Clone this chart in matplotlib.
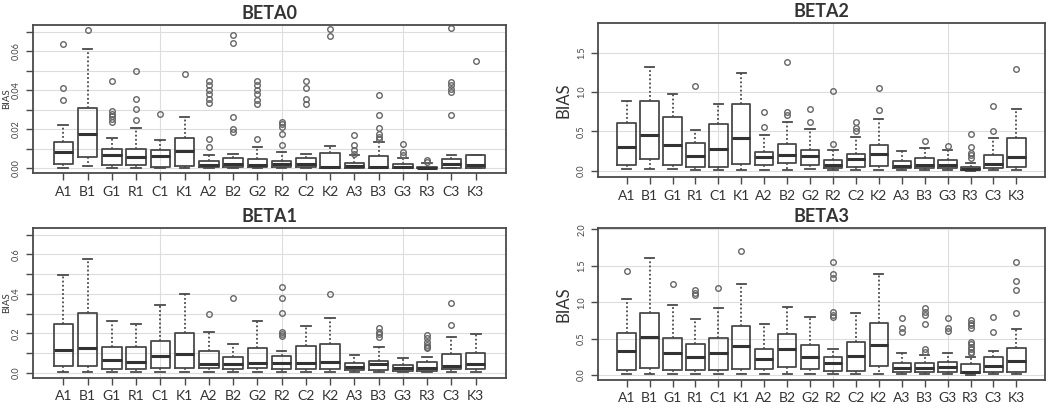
import matplotlib
matplotlib.use("Agg")
import matplotlib.pyplot as plt
import numpy as np

plt.rcParams['font.family'] = ['Lato', 'DejaVu Sans']

groups = ["A1", "B1", "G1", "R1", "C1", "K1", "A2", "B2", "G2",
          "R2", "C2", "K2", "A3", "B3", "G3", "R3", "C3", "K3"]

# BETA0
beta0_q1 = [0.0022, 0.0056, 0.0017, 0.0017, 0.0008, 0.0014, 0.0005, 0.0005, 0.0005,
            0.0005, 0.0005, 0.0, 0.0, 0.0, 0.0, 0.0, 0.0, 0.0]
beta0_med = [0.0085, 0.0178, 0.0068, 0.0060, 0.0065, 0.0088, 0.0017, 0.0022, 0.0019,
             0.0022, 0.0022, 0.0008, 0.0014, 0.0008, 0.0008, 0.0002, 0.0022, 0.0017]
beta0_q3 = [0.0133, 0.0309, 0.0099, 0.0099, 0.0093, 0.0156, 0.0039, 0.0051, 0.0046,
            0.0039, 0.0051, 0.0080, 0.0025, 0.0063, 0.0022, 0.0008, 0.0046, 0.0068]
beta0_lo = [0.0, 0.001, 0.0, 0.0, 0.0, 0.0, 0.0, 0.0, 0.0,
            0.0, 0.0, 0.0, 0.0, 0.0, 0.0, 0.0, 0.0, 0.0]
beta0_hi = [0.0221, 0.0612, 0.0156, 0.0207, 0.0144, 0.0263, 0.0068, 0.0073, 0.0110,
            0.0085, 0.0073, 0.0116, 0.0068, 0.0136, 0.0051, 0.0025, 0.0068, 0.0068]
beta0_out = [[0.0637, 0.0411, 0.0348],
             [0.0709],
             [0.0447, 0.0294, 0.0280, 0.0267, 0.0251, 0.0238],
             [0.0498, 0.0357, 0.0306, 0.0246],
             [0.0280],
             [0.0484],
             [0.0450, 0.0425, 0.0403, 0.0379, 0.0357, 0.0335, 0.0148, 0.0110],
             [0.0685, 0.0641, 0.0263, 0.0204, 0.0187],
             [0.0450, 0.0425, 0.0403, 0.0379, 0.0352, 0.0328, 0.0148],
             [0.0238, 0.0226, 0.0212, 0.0178, 0.0119],
             [0.0450, 0.0413, 0.0357, 0.0328],
             [0.0717, 0.0680],
             [0.0170, 0.0119, 0.0093, 0.0076],
             [0.0377, 0.0272, 0.0207, 0.0178, 0.0161, 0.0148],
             [0.0124, 0.0085, 0.0068],
             [0.0042, 0.0034],
             [0.0722, 0.0445, 0.0425, 0.0408, 0.0391, 0.0272],
             [0.0549]]

# BETA1
beta1_q1 = [0.034, 0.034, 0.017, 0.017, 0.022, 0.022, 0.022, 0.017, 0.022,
            0.017, 0.017, 0.017, 0.014, 0.014, 0.010, 0.010, 0.017, 0.017]
beta1_med = [0.115, 0.127, 0.064, 0.056, 0.086, 0.093, 0.044, 0.042, 0.047,
             0.047, 0.047, 0.056, 0.031, 0.044, 0.022, 0.022, 0.036, 0.042]
beta1_q3 = [0.247, 0.302, 0.132, 0.132, 0.163, 0.200, 0.110, 0.081, 0.124,
            0.085, 0.136, 0.146, 0.047, 0.061, 0.039, 0.056, 0.093, 0.098]
beta1_lo = [0.005, 0.005, 0.005, 0.005, 0.005, 0.005, 0.005, 0.005, 0.005,
            0.005, 0.005, 0.005, 0.003, 0.003, 0.003, 0.003, 0.005, 0.005]
beta1_hi = [0.497, 0.576, 0.264, 0.246, 0.344, 0.398, 0.208, 0.146, 0.264,
            0.112, 0.237, 0.276, 0.088, 0.132, 0.073, 0.078, 0.180, 0.195]
beta1_out = [[], [], [], [], [], [],
             [0.298],
             [0.381],
             [],
             [0.437, 0.378, 0.305, 0.208, 0.197, 0.186],
             [],
             [0.398],
             [],
             [0.225, 0.208, 0.195, 0.183],
             [],
             [0.192, 0.175, 0.158, 0.141, 0.132, 0.124],
             [0.356, 0.242],
             []]

# BETA2
beta2_q1 = [0.072, 0.144, 0.072, 0.051, 0.051, 0.085, 0.072, 0.102, 0.072,
            0.038, 0.051, 0.059, 0.030, 0.030, 0.030, 0.008, 0.030, 0.051]
beta2_med = [0.305, 0.453, 0.326, 0.190, 0.275, 0.411, 0.178, 0.200, 0.190,
             0.072, 0.144, 0.208, 0.064, 0.072, 0.072, 0.021, 0.085, 0.178]
beta2_q3 = [0.610, 0.890, 0.678, 0.347, 0.593, 0.843, 0.233, 0.339, 0.263,
            0.136, 0.212, 0.326, 0.127, 0.157, 0.136, 0.042, 0.200, 0.419]
beta2_lo = [0.017, 0.017, 0.017, 0.005, 0.005, 0.010, 0.010, 0.005, 0.020,
            0.010, 0.010, 0.010, 0.005, 0.005, 0.005, 0.0, 0.005, 0.010]
beta2_hi = [0.890, 1.320, 0.970, 0.517, 0.847, 1.237, 0.453, 0.623, 0.530,
            0.263, 0.432, 0.653, 0.254, 0.292, 0.263, 0.093, 0.419, 0.780]
beta2_out = [[], [], [],
             [1.080],
             [], [],
             [0.742, 0.559],
             [1.386, 0.750, 0.708],
             [0.780, 0.623],
             [1.017, 0.339],
             [0.614, 0.547, 0.508],
             [1.055, 0.771],
             [],
             [0.381],
             [0.314],
             [0.462, 0.305, 0.229, 0.200, 0.157],
             [0.826, 0.504],
             [1.288]]

# BETA3
beta3_q1 = [0.068, 0.100, 0.068, 0.068, 0.068, 0.078, 0.078, 0.114, 0.078,
            0.059, 0.059, 0.123, 0.046, 0.037, 0.046, 0.023, 0.046, 0.046]
beta3_med = [0.329, 0.516, 0.297, 0.242, 0.297, 0.397, 0.215, 0.352, 0.251,
             0.160, 0.260, 0.411, 0.100, 0.091, 0.114, 0.046, 0.128, 0.196]
beta3_q3 = [0.571, 0.845, 0.502, 0.425, 0.502, 0.671, 0.352, 0.562, 0.411,
            0.242, 0.457, 0.708, 0.169, 0.160, 0.183, 0.146, 0.251, 0.374]
beta3_lo = [0.014, 0.014, 0.014, 0.014, 0.014, 0.014, 0.014, 0.014, 0.014,
            0.014, 0.014, 0.014, 0.010, 0.010, 0.010, 0.005, 0.010, 0.020]
beta3_hi = [1.041, 1.612, 0.959, 0.776, 0.927, 1.256, 0.699, 0.936, 0.799,
            0.352, 0.858, 1.393, 0.306, 0.274, 0.306, 0.251, 0.333, 0.626]
beta3_out = [[1.425],
             [],
             [1.256],
             [1.174, 1.128, 1.096],
             [1.200],
             [1.703],
             [], [], [],
             [1.553, 1.384, 1.338, 0.868, 0.822, 0.790],
             [], [],
             [0.785, 0.648, 0.594],
             [0.927, 0.868, 0.822, 0.699, 0.352, 0.320],
             [0.785, 0.648, 0.603],
             [0.753, 0.717, 0.685, 0.639, 0.457, 0.425, 0.388, 0.352, 0.320, 0.297],
             [0.790, 0.594],
             [1.553, 1.292, 1.164, 0.858]]

W, H = 1054, 409
fig = plt.figure(figsize=(W / 100, H / 100), dpi=100)


def make_ax(l, t, r, b):
    return fig.add_axes([l / W, 1 - b / H, (r - l) / W, (b - t) / H])


panels = [
    ("BETA0", (33, 25, 506, 173), (-0.0024, 0.0735),
     np.arange(0, 0.0701, 0.01), ["0.00", "", "0.02", "", "0.04", "", "0.06", ""],
     beta0_q1, beta0_med, beta0_q3, beta0_lo, beta0_hi, beta0_out),
    ("BETA2", (598, 23, 1045, 177), (-0.08, 1.877),
     [0, 0.5, 1.0, 1.5], ["0.0", "0.5", "1.0", "1.5"],
     beta2_q1, beta2_med, beta2_q3, beta2_lo, beta2_hi, beta2_out),
    ("BETA1", (33, 228, 506, 378), (-0.027, 0.734),
     np.arange(0, 0.701, 0.1), ["0.0", "", "0.2", "", "0.4", "", "0.6", ""],
     beta1_q1, beta1_med, beta1_q3, beta1_lo, beta1_hi, beta1_out),
    ("BETA3", (598, 228, 1045, 380), (-0.069, 2.02),
     [0, 0.5, 1.0, 1.5, 2.0], ["0.0", "0.5", "1.0", "1.5", "2.0"],
     beta3_q1, beta3_med, beta3_q3, beta3_lo, beta3_hi, beta3_out),
]

edge = "#4a4a4a"
pos = np.arange(1, len(groups) + 1)

for title, box, ylim, yt, ytl, q1, med, q3, lo, hi, out in panels:
    ax = make_ax(*box)
    stats = [dict(q1=a, med=m, q3=c, whislo=w1, whishi=w2, fliers=f)
             for a, m, c, w1, w2, f in zip(q1, med, q3, lo, hi, out)]
    ax.bxp(stats, positions=pos, widths=0.8, capwidths=0.4, showfliers=True,
           boxprops=dict(color=edge, linewidth=1.3),
           medianprops=dict(color="#333333", linewidth=2.2),
           whiskerprops=dict(color=edge, linewidth=1.3, linestyle=(0, (1.0, 1.3))),
           capprops=dict(color=edge, linewidth=1.3),
           flierprops=dict(marker="o", markersize=4, markerfacecolor="none",
                           markeredgecolor="#666666", markeredgewidth=1.0))
    ax.set_xlim(1 - 1.25, len(groups) + 1.25)
    ax.set_ylim(*ylim)
    ax.set_xticks(pos)
    ax.set_xticklabels(groups, fontsize=10, color="#333333")
    ax.set_yticks(yt)
    ax.set_yticklabels(ytl, fontsize=6.5, color="#444444", rotation=90, va="center")
    ax.tick_params(axis="both", length=5, color=edge, width=1)
    ax.tick_params(axis="x", pad=4)
    ax.grid(axis="y", color="#dddddd", linewidth=0.8)
    for gx in (5, 10, 15):
        ax.axvline(gx, color="#dddddd", linewidth=0.8, zorder=0)
    ax.set_axisbelow(True)
    for s in ax.spines.values():
        s.set_color(edge)
        s.set_linewidth(1.3)
    ax.set_title(title, fontsize=13, fontweight="bold", color="#333333", pad=4)
    # left panels sit right at the figure edge, so their label is smaller
    if box[0] > 100:
        ax.set_ylabel("BIAS", fontsize=12, color="#333333")
        ax.yaxis.set_label_coords(-26 / (box[2] - box[0]), 0.5)
    else:
        ax.set_ylabel("BIAS", fontsize=7, color="#333333")
        ax.yaxis.set_label_coords(-22 / (box[2] - box[0]), 0.5)

fig.savefig("out.png", dpi=100, facecolor="white")
